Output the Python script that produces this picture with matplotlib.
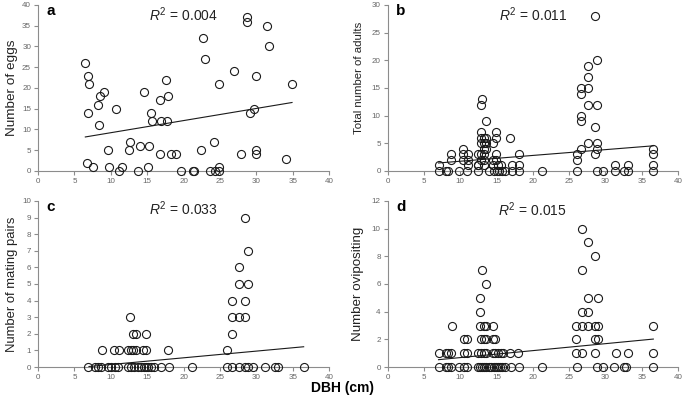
import matplotlib
matplotlib.use("Agg")
import matplotlib.pyplot as plt

plt.rcParams["font.family"] = ["Liberation Sans", "DejaVu Sans"]
plt.rcParams["mathtext.fontset"] = "custom"
plt.rcParams["mathtext.rm"] = "Liberation Sans"
plt.rcParams["mathtext.it"] = "Liberation Sans:italic"

# --- panel a: eggs -----------------------------------------------------------
a_x = [6.4, 6.9, 7.0, 6.9, 6.7, 7.5, 8.4, 8.3, 8.5, 9.1, 9.6, 9.8,
       10.7, 11.1, 11.5, 12.6, 12.5, 13.7, 14.0, 14.5, 15.2, 15.1, 15.5, 15.7,
       16.8, 16.9, 17.7, 16.7, 17.6, 17.9, 18.3, 19.0, 19.7, 21.3, 21.4, 22.4,
       22.6, 22.9, 23.6, 24.2, 24.3, 24.8, 24.8, 24.9, 26.9, 27.9, 28.7, 28.7,
       29.1, 29.7, 29.9, 30.0, 29.9, 31.4, 31.7, 34.1, 34.9]
a_y = [26, 23, 21, 14, 2, 1, 11, 16, 18, 19, 5, 1,
       15, 0, 1, 7, 5, 0, 6, 19, 6, 1, 14, 12,
       17, 12, 12, 4, 22, 18, 4, 4, 0, 0, 0, 5,
       32, 27, 0, 7, 0, 0, 1, 21, 24, 4, 37, 36,
       14, 15, 4, 5, 23, 35, 30, 3, 21]
a_trend_x = [6.5, 34.9]
a_trend_y = [8.2, 16.5]

# --- panel b: total adults ---------------------------------------------------
b_x = [7.0, 7.0, 8.0, 8.3, 8.7, 8.7, 9.8,
       10.4, 10.4, 10.4, 10.9, 11.0, 11.0, 11.0,
       12.4, 12.4, 12.4, 12.8, 13.0, 13.5,
       12.8, 12.8, 12.8, 12.8, 12.8, 12.5,
       13.2, 13.2, 13.2, 13.2, 13.2, 13.2, 13.5, 13.5, 13.5,
       13.9, 14.5, 14.5, 14.5, 14.6, 14.9, 14.9, 14.9, 14.9, 15.0,
       15.2, 15.4, 15.6, 15.7, 16.1,
       16.9, 17.1, 17.1, 18.1, 18.1, 18.1, 21.3,
       26.1, 26.1, 26.1, 26.7, 26.7, 26.7, 26.7, 26.7,
       27.6, 27.6, 27.6, 27.6, 27.6,
       28.5, 28.6, 28.6, 28.9, 28.9, 28.9, 28.9, 28.9, 29.7,
       31.3, 31.3, 32.5, 33.1, 33.1, 36.6, 36.6, 36.6, 36.6]
b_y = [1, 0, 0, 0, 3, 2, 0,
       4, 3, 2, 0, 3, 2, 1,
       3, 1, 0, 12, 13, 9,
       7, 6, 5, 3, 2, 1,
       6, 5, 4, 3, 2, 1, 6, 5, 4,
       0, 5, 2, 1, 0, 7, 6, 3, 2, 0,
       1, 0, 1, 0, 0,
       6, 1, 0, 3, 1, 0, 0,
       3, 2, 0, 15, 14, 10, 9, 4,
       19, 17, 15, 12, 5,
       28, 8, 3, 20, 12, 5, 4, 0, 0,
       1, 0, 0, 1, 0, 4, 3, 1, 0]
b_trend_x = [7.0, 36.6]
b_trend_y = [1.45, 4.55]

# --- panel c: mating pairs ---------------------------------------------------
c_x = [8.8, 10.4, 11.1, 12.4, 12.8, 13.1, 13.4, 14.4, 14.8, 17.9, 26.0,
       13.0, 13.4, 14.8, 26.7,
       12.7, 26.7, 27.6, 28.5,
       26.7, 28.5, 27.6, 28.9, 27.6, 28.9, 28.5,
       6.9, 7.8, 8.2, 8.6, 9.6, 10.0, 10.6, 11.0, 12.4, 12.8,
       13.2, 13.7, 14.1, 14.5, 14.8, 15.1, 15.5, 16.0, 16.9, 18.0,
       21.2, 26.0, 26.7, 27.6, 28.5, 28.9, 29.6, 31.2, 32.5, 33.0, 36.5]
c_y = [1, 1, 1, 1, 1, 1, 1, 1, 1, 1, 1,
       2, 2, 2, 2,
       3, 3, 3, 3,
       4, 4, 5, 5, 6, 7, 9,
       0, 0, 0, 0, 0, 0, 0, 0, 0, 0,
       0, 0, 0, 0, 0, 0, 0, 0, 0, 0,
       0, 0, 0, 0, 0, 0, 0, 0, 0, 0, 0]
c_trend_x = [7.0, 36.5]
c_trend_y = [0.03, 1.22]

# --- panel d: ovipositing ----------------------------------------------------
d_x = [13.0, 13.5, 12.7, 12.7, 8.8, 12.7, 13.2, 13.6, 14.5,
       10.5, 10.9, 12.9, 13.3, 13.6, 14.5, 14.8,
       7.0, 8.0, 8.3, 8.7, 10.5, 10.9, 12.5, 12.9, 13.2, 13.6, 14.5, 14.8,
       15.2, 15.6, 15.9, 16.9, 18.0,
       26.8, 27.6, 28.5, 26.8, 27.6, 29.0, 26.8, 27.6,
       26.0, 26.8, 27.6, 28.5, 29.0, 36.6, 26.0, 28.5, 29.0,
       26.0, 26.8, 28.5, 31.4, 33.1, 36.6,
       7.0, 8.0, 8.3, 8.7, 9.8, 10.5, 10.9, 12.4, 12.7, 13.0,
       13.3, 13.6, 13.9, 14.3, 14.6, 14.9, 15.2, 15.5, 15.8, 16.2,
       17.0, 18.1, 21.2, 26.1, 28.8, 29.7, 31.2, 32.5, 32.9, 36.6]
d_y = [7, 6, 5, 4, 3, 3, 3, 3, 3,
       2, 2, 2, 2, 2, 2, 2,
       1, 1, 1, 1, 1, 1, 1, 1, 1, 1, 1, 1,
       1, 1, 1, 1, 1,
       10, 9, 8, 7, 5, 5, 4, 4,
       3, 3, 3, 3, 3, 3, 2, 2, 2,
       1, 1, 1, 1, 1, 1,
       0, 0, 0, 0, 0, 0, 0, 0, 0, 0,
       0, 0, 0, 0, 0, 0, 0, 0, 0, 0,
       0, 0, 0, 0, 0, 0, 0, 0, 0, 0]
d_trend_x = [7.0, 36.6]
d_trend_y = [0.53, 2.02]


def draw_panel(ax, x, y, ymax, ystep, ylabel, label_size, label_x, letter, r2, tx, ty, r2_y):
    ax.plot(x, y, "o", ms=5.8, mfc="none", mec="#1a1a1a", mew=0.8, clip_on=False, zorder=3)
    ax.plot(tx, ty, "-", color="#1a1a1a", lw=0.8, zorder=2)
    ax.set_xlim(0, 40)
    ax.set_ylim(0, ymax)
    ax.set_xticks(range(0, 41, 5))
    ax.set_yticks(range(0, ymax + 1, ystep))
    for s in ("top", "right"):
        ax.spines[s].set_visible(False)
    for s in ("left", "bottom"):
        ax.spines[s].set_color("#8c8c8c")
        ax.spines[s].set_linewidth(0.8)
    ax.tick_params(labelsize=5.8, colors="#8c8c8c", labelcolor="#666666",
                   length=3, width=0.8, pad=2)
    ax.set_ylabel(ylabel, fontsize=label_size, color="#222222")
    ax.yaxis.set_label_coords(label_x, 0.5)
    ax.text(0.03, 0.965, letter, transform=ax.transAxes, fontsize=11,
            fontweight="bold", va="center", ha="left")
    ax.text(0.5, r2_y, r"$R^2$ = " + r2, transform=ax.transAxes, fontsize=10,
            va="center", ha="center", color="#222222")


fig = plt.figure(figsize=(6.85, 4.03), dpi=100)
ax_a = fig.add_axes([0.0555, 0.5757, 0.425, 0.412])
ax_b = fig.add_axes([0.566, 0.5757, 0.4238, 0.412])
ax_c = fig.add_axes([0.0555, 0.0893, 0.425, 0.412])
ax_d = fig.add_axes([0.566, 0.0893, 0.4238, 0.412])

draw_panel(ax_a, a_x, a_y, 40, 5, "Number of eggs", 9.7, -0.068, "a", "0.004",
           a_trend_x, a_trend_y, 0.94)
draw_panel(ax_b, b_x, b_y, 30, 5, "Total number of adults", 8.2, -0.082, "b", "0.011",
           b_trend_x, b_trend_y, 0.94)
draw_panel(ax_c, c_x, c_y, 10, 1, "Number of mating pairs", 9.4, -0.068, "c", "0.033",
           c_trend_x, c_trend_y, 0.955)
draw_panel(ax_d, d_x, d_y, 12, 2, "Number ovipositing", 9.6, -0.082, "d", "0.015",
           d_trend_x, d_trend_y, 0.945)
ax_b.yaxis.set_label_coords(-0.082, 0.56)

fig.text(0.5, 0.037, "DBH (cm)", ha="center", va="center", fontsize=10, fontweight="bold")

fig.savefig("out.png", dpi=100)
